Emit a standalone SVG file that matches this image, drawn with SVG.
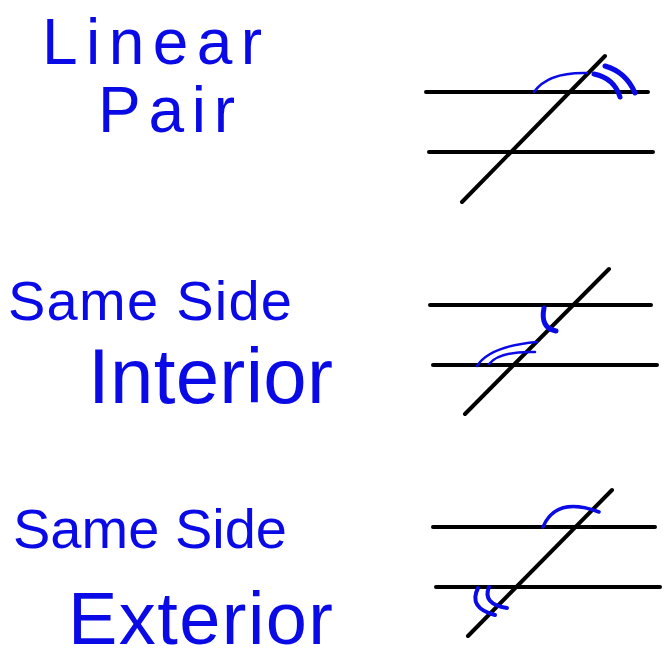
<svg xmlns="http://www.w3.org/2000/svg" width="667" height="663" viewBox="0 0 667 663">
<style>
.bg{fill:#ffffff}
.ln{stroke:#000000;stroke-width:4;stroke-linecap:round;fill:none}
.thin{stroke:#0a0ae6;stroke-width:2.5;stroke-linecap:round;fill:none}
.thick{stroke:#0a0ae6;stroke-width:5;stroke-linecap:round;fill:none}
.hw{font-family:"Liberation Sans","Noto Sans",sans-serif;fill:#0a0ae6;font-weight:normal}
</style>
<rect class="bg" x="0" y="0" width="667" height="663"/>
<g id="linear-pair">
  <text class="hw" x="42" y="64" font-size="64" textLength="220" lengthAdjust="spacing">Linear</text>
  <text class="hw" x="98" y="132" font-size="64" textLength="137" lengthAdjust="spacing">Pair</text>
  <line class="ln" x1="426" y1="92" x2="648" y2="92"/>
  <line class="ln" x1="429" y1="152" x2="653" y2="152"/>
  <line class="ln" x1="462" y1="202" x2="605" y2="56"/>
  <path class="thin" d="M534 92 Q548 72 587 73"/>
  <path class="thick" d="M594 74 Q614 78 620 97"/>
  <path class="thick" d="M605 66 Q626 72 635 93"/>
</g>
<g id="same-side-interior">
  <text class="hw" x="8" y="320" font-size="56" textLength="284" lengthAdjust="spacing">Same Side</text>
  <text class="hw" x="88" y="403" font-size="78" textLength="245" lengthAdjust="spacing">Interior</text>
  <line class="ln" x1="430" y1="305" x2="651" y2="305"/>
  <line class="ln" x1="433" y1="365" x2="657" y2="365"/>
  <line class="ln" x1="465" y1="414" x2="609" y2="269"/>
  <path class="thick" d="M544 308 Q540 328 556 331"/>
  <path class="thin" d="M477 366 Q490 346 537 342"/>
  <path class="thin" d="M489 364 Q500 351 535 352"/>
</g>
<g id="same-side-exterior">
  <text class="hw" x="13" y="548" font-size="56" textLength="274" lengthAdjust="spacing">Same Side</text>
  <text class="hw" x="68" y="644" font-size="74" textLength="265" lengthAdjust="spacing">Exterior</text>
  <line class="ln" x1="433" y1="527" x2="655" y2="527"/>
  <line class="ln" x1="436" y1="587" x2="660" y2="587"/>
  <line class="ln" x1="468" y1="636" x2="612" y2="490"/>
  <path class="thin" d="M543 527 Q556 496 599 512" style="stroke-width:3.5"/>
  <path class="thick" d="M478 588 Q468 608 495 615" style="stroke-width:4"/>
  <path class="thick" d="M489 587 Q482 604 507 608" style="stroke-width:4"/>
</g>
</svg>
